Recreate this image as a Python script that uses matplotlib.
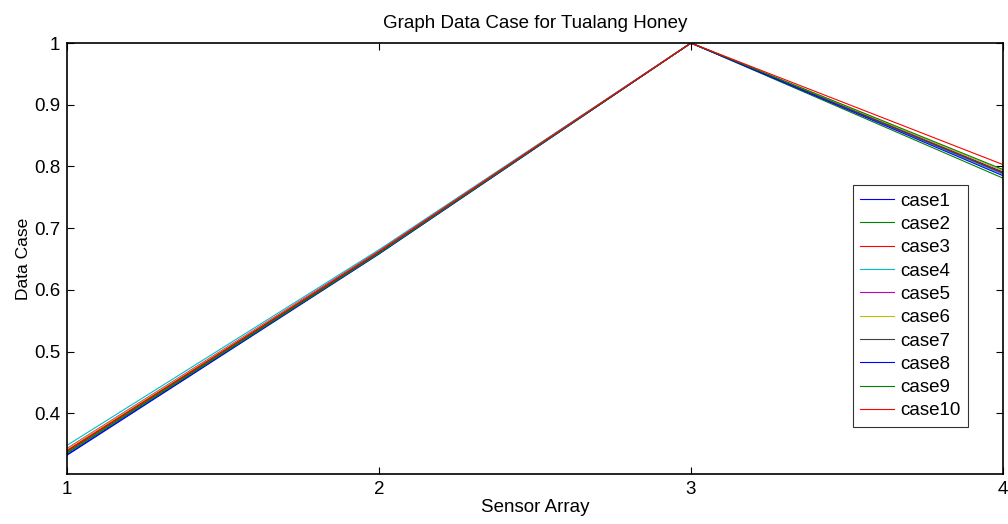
import numpy as np
import matplotlib
matplotlib.use("Agg")
import matplotlib.pyplot as plt

plt.rcParams['font.family'] = ['Liberation Sans', 'DejaVu Sans']

sensors = [1, 2, 3, 4]
case_names = ['case%d' % i for i in range(1, 11)]

# values (at sensor 1, 2, 3, 4)
case1 = [0.333, 0.659, 1.0, 0.791]
case2 = [0.336, 0.660, 1.0, 0.781]
case3 = [0.340, 0.662, 1.0, 0.790]
case4 = [0.348, 0.665, 1.0, 0.787]
case5 = [0.343, 0.663, 1.0, 0.789]
case6 = [0.342, 0.662, 1.0, 0.793]
case7 = [0.338, 0.661, 1.0, 0.789]
case8 = [0.332, 0.658, 1.0, 0.785]
case9 = [0.335, 0.659, 1.0, 0.795]
case10 = [0.339, 0.662, 1.0, 0.803]
cases = [case1, case2, case3, case4, case5, case6, case7, case8, case9, case10]

# matlab's old default line colours
colours = [(0, 0, 1), (0, 0.5, 0), (1, 0, 0), (0, 0.75, 0.75),
           (0.75, 0, 0.75), (0.75, 0.75, 0), (0.25, 0.25, 0.25)]

fig = plt.figure(figsize=(10.08, 5.24), dpi=100)
ax = fig.add_axes([0.0665, 0.0954, 0.9285, 0.8225])

for i, vals in enumerate(cases):
    ax.plot(sensors, vals, color=colours[i % len(colours)], lw=0.8, label=case_names[i])

ax.set_xlim(1, 4)
ax.set_ylim(0.3015, 1)
ax.set_xticks([1, 2, 3, 4])
ax.set_yticks([0.4, 0.5, 0.6, 0.7, 0.8, 0.9, 1])
ax.set_yticklabels(['0.4', '0.5', '0.6', '0.7', '0.8', '0.9', '1'])
ax.tick_params(direction='in', length=5, width=0.8, top=True, right=True,
               labelsize=13.5, pad=5)
for s in ax.spines.values():
    s.set_linewidth(1.2)

ax.set_title('Graph Data Case for Tualang Honey', fontsize=13.5, pad=11)
ax.set_xlabel('Sensor Array', fontsize=13.5, labelpad=1)
ax.set_ylabel('Data Case', fontsize=12.5, labelpad=2)

leg = ax.legend(loc='upper left', bbox_to_anchor=(0.8397, 0.6705), fontsize=13.5,
                frameon=True, fancybox=False, edgecolor='black',
                handlelength=1.8, handletextpad=0.3, labelspacing=0.33,
                borderpad=0.4, borderaxespad=0)
leg.get_frame().set_linewidth(0.8)

fig.savefig('out.png', dpi=100)
